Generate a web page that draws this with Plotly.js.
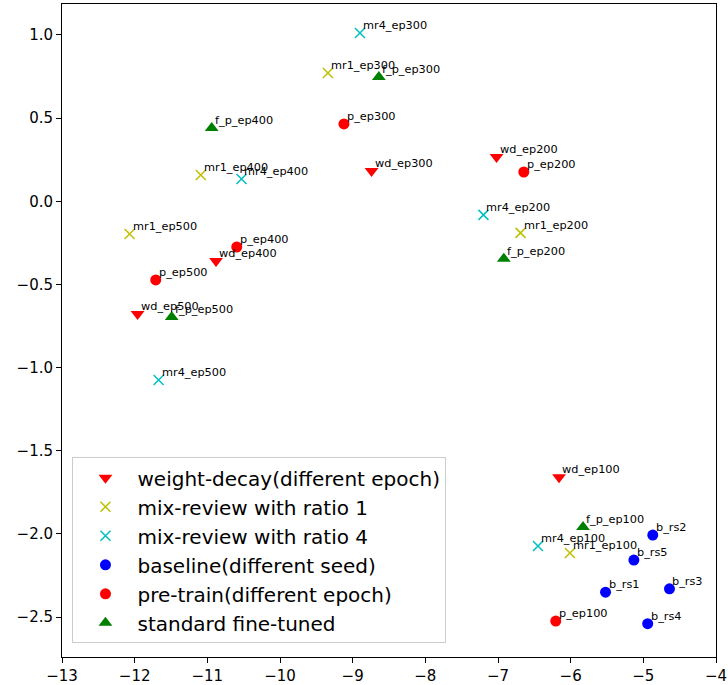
<!DOCTYPE html>
<html>
<head>
<meta charset="utf-8">
<script src="https://cdn.plot.ly/plotly-3.0.1.min.js"></script>
<style>html,body{margin:0;padding:0;background:#fff;}#chart{width:728px;height:685px;}</style>
</head>
<body>
<div id="chart"></div>
<script>
// weight-decay (different epoch)
const wdLabels = ["wd_ep100","wd_ep200","wd_ep300","wd_ep400","wd_ep500"];
const wdX = [-6.16, -7.02, -8.74, -10.88, -11.96];
const wdY = [-1.66, 0.266, 0.182, -0.359, -0.678];
// mix-review ratio 1
const mr1Labels = ["mr1_ep100","mr1_ep200","mr1_ep300","mr1_ep400","mr1_ep500"];
const mr1X = [-6.01, -6.69, -9.34, -11.09, -12.07];
const mr1Y = [-2.115, -0.19, 0.771, 0.158, -0.197];
// mix-review ratio 4
const mr4Labels = ["mr4_ep100","mr4_ep200","mr4_ep300","mr4_ep400","mr4_ep500"];
const mr4X = [-6.45, -7.20, -8.90, -10.53, -11.67];
const mr4Y = [-2.073, -0.082, 1.012, 0.134, -1.075];
// baseline (different seed)
const bLabels = ["b_rs1","b_rs2","b_rs3","b_rs4","b_rs5"];
const bX = [-5.52, -4.87, -4.64, -4.94, -5.13];
const bY = [-2.35, -2.007, -2.33, -2.54, -2.157];
// pre-train (different epoch)
const pLabels = ["p_ep100","p_ep200","p_ep300","p_ep400","p_ep500"];
const pX = [-6.205, -6.645, -9.12, -10.595, -11.71];
const pY = [-2.524, 0.176, 0.465, -0.275, -0.473];
// standard fine-tuned
const fLabels = ["f_p_ep100","f_p_ep200","f_p_ep300","f_p_ep400","f_p_ep500"];
const fX = [-5.83, -6.92, -8.64, -10.94, -11.49];
const fY = [-1.958, -0.345, 0.747, 0.441, -0.696];

const xTicks = [-13,-12,-11,-10,-9,-8,-7,-6,-5,-4];
const yTicks = [-2.5,-2.0,-1.5,-1.0,-0.5,0.0,0.5,1.0];

const series = [
  {name:"weight-decay(different epoch)", x:wdX, y:wdY, labels:wdLabels, symbol:"triangle-down", color:"#ff0000", size:12, line:false},
  {name:"mix-review with ratio 1", x:mr1X, y:mr1Y, labels:mr1Labels, symbol:"x-thin", color:"#bfbf00", size:10, line:true},
  {name:"mix-review with ratio 4", x:mr4X, y:mr4Y, labels:mr4Labels, symbol:"x-thin", color:"#00bfbf", size:10, line:true},
  {name:"baseline(different seed)", x:bX, y:bY, labels:bLabels, symbol:"circle", color:"#0000ff", size:11, line:false},
  {name:"pre-train(different epoch)", x:pX, y:pY, labels:pLabels, symbol:"circle", color:"#ff0000", size:11, line:false},
  {name:"standard fine-tuned", x:fX, y:fY, labels:fLabels, symbol:"triangle-up", color:"#008000", size:12, line:false}
];

const traces = series.map(s => ({
  type:"scatter", mode:"markers", name:s.name, x:s.x, y:s.y,
  marker: s.line
    ? {symbol:s.symbol, size:s.size, color:s.color, line:{color:s.color, width:1.5}}
    : {symbol:s.symbol, size:s.size, color:s.color, line:{width:0}},
  hoverinfo:"text", text:s.labels
}));

const annotations = [];
series.forEach(s => {
  s.labels.forEach((lab, i) => {
    annotations.push({
      x:s.x[i], y:s.y[i], xref:"x", yref:"y", text:lab, showarrow:false,
      xanchor:"left", yanchor:"bottom", xshift:1, yshift:-1,
      font:{family:"DejaVu Sans", size:11.3, color:"#000"}
    });
  });
});

const layout = {
  width:728, height:685,
  margin:{l:62, r:12, t:4, b:28},
  paper_bgcolor:"#fff", plot_bgcolor:"#fff",
  font:{family:"DejaVu Sans", color:"#000"},
  showlegend:true,
  legend:{
    x:0.016, y:0.021, xanchor:"left", yanchor:"bottom",
    bgcolor:"rgba(255,255,255,0.8)", bordercolor:"#cccccc", borderwidth:1,
    font:{family:"DejaVu Sans", size:20, color:"#000"},
    itemwidth:54
  },
  xaxis:{
    range:[-13,-4], tickvals:xTicks, ticks:"outside", ticklen:5, tickwidth:1, tickcolor:"#000",
    showline:true, linecolor:"#000", linewidth:1, mirror:true, showgrid:false, zeroline:false,
    tickfont:{family:"DejaVu Sans", size:15, color:"#000"}
  },
  yaxis:{
    range:[-2.74, 1.186], tickvals:yTicks, tickformat:".1f", ticks:"outside", ticklen:5, tickwidth:1, tickcolor:"#000",
    showline:true, linecolor:"#000", linewidth:1, mirror:true, showgrid:false, zeroline:false,
    tickfont:{family:"DejaVu Sans", size:15, color:"#000"}
  },
  annotations:annotations
};

Plotly.newPlot("chart", traces, layout, {displayModeBar:false, staticPlot:true});
</script>
</body>
</html>
